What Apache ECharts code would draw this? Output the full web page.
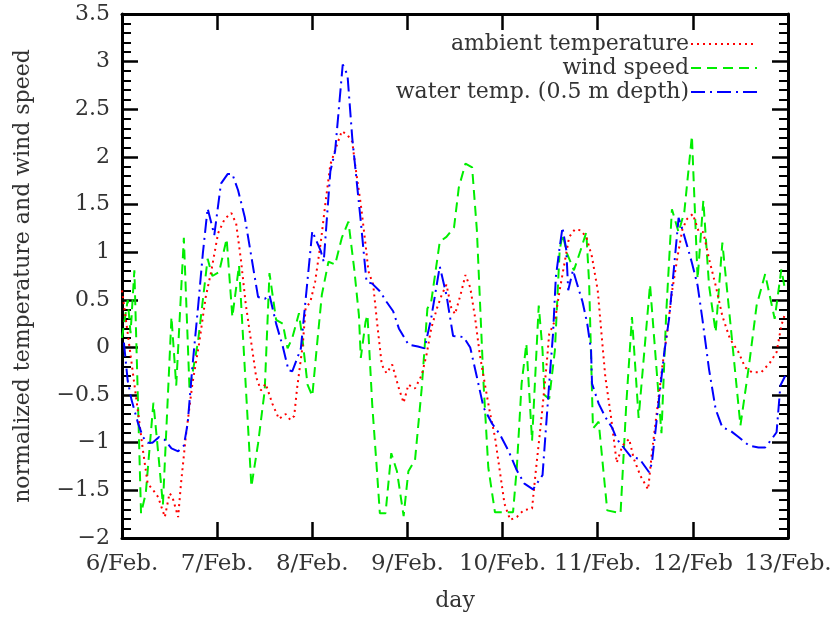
<!DOCTYPE html>
<html>
<head>
<meta charset="utf-8">
<script src="https://cdn.jsdelivr.net/npm/echarts@6/dist/echarts.min.js"></script>
<style>
html,body{margin:0;padding:0;background:#fff;}
#chart{width:836px;height:618px;}
</style>
</head>
<body>
<div id="chart"></div>
<script>
// x tick labels (day index 0..7)
const dayLabels = ['6/Feb.', '7/Feb.', '8/Feb.', '9/Feb.', '10/Feb.', '11/Feb.', '12/Feb', '13/Feb.'];
const seriesNames = ['ambient temperature', 'wind speed', 'water temp. (0.5 m depth)'];

// [day, normalized value]
const ambient = [
  [0.00,0.60],[0.06,0.15],[0.12,-0.31],[0.17,-0.69],[0.22,-1.08],[0.27,-1.43],[0.33,-1.50],[0.38,-1.57],
  [0.45,-1.78],[0.50,-1.53],[0.53,-1.57],[0.59,-1.78],[0.62,-1.43],[0.67,-0.94],[0.74,-0.38],[0.81,0.04],
  [0.88,0.53],[0.94,0.81],[1.01,1.20],[1.08,1.35],[1.15,1.41],[1.20,1.30],[1.25,0.92],[1.30,0.46],
  [1.36,0.04],[1.41,-0.31],[1.46,-0.45],[1.51,-0.38],[1.58,-0.59],[1.65,-0.75],[1.72,-0.70],[1.77,-0.76],
  [1.81,-0.72],[1.84,-0.43],[1.90,0.03],[1.93,0.41],[1.98,0.48],[2.03,0.69],[2.09,1.11],[2.14,1.53],
  [2.19,1.92],[2.26,2.13],[2.31,2.27],[2.37,2.23],[2.42,2.16],[2.45,1.92],[2.51,1.50],[2.56,1.08],
  [2.59,0.80],[2.64,0.66],[2.68,0.27],[2.73,-0.18],[2.78,-0.27],[2.84,-0.18],[2.91,-0.43],[2.96,-0.58],
  [3.01,-0.39],[3.08,-0.43],[3.15,-0.29],[3.20,-0.08],[3.25,0.20],[3.31,0.41],[3.36,0.55],[3.41,0.66],
  [3.46,0.42],[3.50,0.35],[3.56,0.56],[3.61,0.76],[3.66,0.63],[3.71,0.32],[3.76,-0.07],[3.82,-0.42],
  [3.87,-0.70],[3.92,-0.94],[3.97,-1.29],[4.02,-1.64],[4.08,-1.81],[4.15,-1.78],[4.22,-1.71],[4.31,-1.69],
  [4.35,-1.29],[4.41,-0.73],[4.46,-0.21],[4.49,0.14],[4.55,0.28],[4.60,0.60],[4.65,0.88],[4.70,1.16],
  [4.76,1.24],[4.82,1.23],[4.88,1.16],[4.94,0.95],[5.00,0.60],[5.04,0.14],[5.08,-0.31],[5.14,-0.73],
  [5.20,-1.21],[5.26,-1.03],[5.33,-0.96],[5.38,-1.17],[5.45,-1.35],[5.53,-1.49],[5.57,-1.10],[5.63,-0.61],
  [5.68,-0.19],[5.73,0.16],[5.78,0.58],[5.84,0.96],[5.89,1.24],[5.94,1.35],[6.00,1.40],[6.06,1.22],
  [6.11,1.21],[6.17,0.93],[6.24,0.65],[6.31,0.33],[6.39,0.09],[6.48,-0.05],[6.55,-0.21],[6.62,-0.26],
  [6.72,-0.26],[6.81,-0.16],[6.88,-0.05],[6.93,0.23],[6.97,0.36]
];

const wind = [
  [0.00,0.10],[0.06,0.50],[0.09,0.15],[0.13,0.81],[0.20,-1.74],[0.25,-1.53],[0.33,-0.58],[0.38,-1.10],
  [0.43,-1.65],[0.52,0.32],[0.57,-0.40],[0.65,1.15],[0.71,-0.45],[0.80,0.07],[0.90,0.93],[0.95,0.75],
  [1.02,0.79],[1.10,1.14],[1.16,0.32],[1.23,0.86],[1.36,-1.46],[1.43,-1.01],[1.50,-0.45],[1.55,0.78],
  [1.62,0.29],[1.69,0.25],[1.74,-0.01],[1.79,0.10],[1.86,0.36],[1.90,0.06],[1.95,-0.39],[2.00,-0.51],
  [2.05,0.03],[2.10,0.55],[2.17,0.90],[2.24,0.87],[2.31,1.15],[2.38,1.32],[2.44,0.83],[2.49,0.34],
  [2.51,-0.11],[2.56,0.27],[2.58,0.34],[2.63,-0.60],[2.68,-1.30],[2.71,-1.74],[2.77,-1.74],[2.83,-1.11],
  [2.89,-1.30],[2.96,-1.77],[3.01,-1.30],[3.08,-1.18],[3.15,-0.43],[3.21,0.41],[3.25,0.48],[3.34,1.11],
  [3.41,1.16],[3.49,1.26],[3.54,1.68],[3.61,1.93],[3.68,1.89],[3.73,1.23],[3.80,-0.38],[3.85,-1.26],
  [3.92,-1.73],[4.01,-1.73],[4.11,-1.73],[4.15,-1.26],[4.20,-0.38],[4.25,0.04],[4.31,-0.98],[4.38,0.44],
  [4.42,-0.03],[4.44,-0.50],[4.49,-0.54],[4.55,-0.03],[4.60,1.02],[4.63,1.19],[4.68,0.98],[4.75,0.81],
  [4.82,1.02],[4.88,1.21],[4.91,0.67],[4.95,-0.85],[5.01,-0.78],[5.10,-1.71],[5.24,-1.74],[5.30,-0.60],
  [5.36,0.32],[5.43,-0.74],[5.55,0.66],[5.67,-0.90],[5.72,0.36],[5.78,1.45],[5.85,1.21],[5.91,1.42],
  [5.99,2.22],[6.05,0.72],[6.11,1.54],[6.17,0.65],[6.24,0.16],[6.31,1.10],[6.39,0.30],[6.50,-0.82],
  [6.59,-0.19],[6.67,0.44],[6.76,0.77],[6.86,0.30],[6.93,0.82],[6.97,0.60]
];

const water = [
  [0.02,0.05],[0.06,-0.35],[0.10,-0.55],[0.17,-0.80],[0.22,-0.94],[0.27,-1.00],[0.32,-1.00],[0.39,-0.94],
  [0.45,-0.97],[0.52,-1.06],[0.59,-1.09],[0.65,-1.03],[0.69,-0.80],[0.74,-0.20],[0.80,0.43],[0.85,0.99],
  [0.90,1.46],[0.97,1.18],[1.04,1.72],[1.11,1.82],[1.16,1.82],[1.22,1.65],[1.29,1.37],[1.36,0.95],
  [1.43,0.53],[1.50,0.51],[1.55,0.55],[1.62,0.25],[1.69,0.01],[1.75,-0.24],[1.79,-0.25],[1.88,-0.01],
  [2.00,1.22],[2.09,1.01],[2.12,0.90],[2.19,1.85],[2.24,2.06],[2.32,2.97],[2.37,2.86],[2.42,2.20],
  [2.51,1.32],[2.57,0.69],[2.63,0.67],[2.71,0.59],[2.78,0.48],[2.85,0.38],[2.91,0.20],[3.01,0.03],
  [3.11,0.01],[3.18,-0.01],[3.25,0.31],[3.34,0.85],[3.41,0.55],[3.48,0.12],[3.59,0.11],[3.66,0.00],
  [3.73,-0.31],[3.80,-0.63],[3.89,-0.80],[3.97,-0.91],[4.06,-1.08],[4.15,-1.29],[4.23,-1.43],[4.32,-1.49],
  [4.42,-1.34],[4.49,-0.38],[4.53,0.14],[4.56,0.74],[4.60,1.05],[4.63,1.26],[4.67,1.02],[4.69,0.60],
  [4.74,0.81],[4.84,0.48],[4.89,0.25],[4.93,-0.03],[4.94,-0.38],[5.01,-0.59],[5.08,-0.73],[5.15,-0.84],
  [5.20,-0.96],[5.35,-1.15],[5.44,-1.17],[5.54,-1.31],[5.57,-1.21],[5.64,-0.58],[5.70,-0.05],[5.75,0.30],
  [5.80,0.82],[5.85,1.36],[5.89,1.24],[5.99,0.89],[6.05,0.65],[6.10,0.30],[6.17,-0.23],[6.24,-0.65],
  [6.31,-0.84],[6.39,-0.87],[6.48,-0.94],[6.59,-1.03],[6.69,-1.05],[6.76,-1.05],[6.83,-0.96],[6.88,-0.89],
  [6.92,-0.40],[6.97,-0.30]
];

const FONT = 'DejaVu Serif';
const TXT = '#333333';
const FS = 22;

const chart = echarts.init(document.getElementById('chart'), null, {renderer: 'canvas'});

function yFmt(v) {
  const r = Math.round(v * 10) / 10;
  return r < 0 ? '\u2212' + Math.abs(r) : String(r);
}

const axisLineStyle = {color: '#000', width: 3};
const tickStyle = {color: '#000', width: 2.5};
const minorStyle = {color: '#000', width: 2};

function legendFor(name, top) {
  return {
    data: [name], right: 78, top: top, align: 'right', orient: 'vertical',
    itemWidth: 66, itemHeight: 12, selectedMode: false, padding: 0,
    itemStyle: {opacity: 0},
    textStyle: {fontFamily: FONT, fontSize: FS, color: TXT, padding: [0, -3, 0, 0]}
  };
}

// hidden helper axes: their zero sits on a plot edge, so the framed axes are anchored there
function helperAxis(min, max) {
  return {type: 'value', min: min, max: max, show: false, axisLine: {onZero: false}};
}

const option = {
  animation: false,
  backgroundColor: '#fff',
  grid: {left: 122, right: 48, top: 14, bottom: 80, containLabel: false},
  legend: [legendFor(seriesNames[0], 33), legendFor(seriesNames[1], 57), legendFor(seriesNames[2], 81)],
  xAxis: [
    {
      type: 'value', min: 0, max: 7, interval: 1, position: 'bottom',
      axisLine: {show: true, onZero: true, onZeroAxisIndex: 2, lineStyle: axisLineStyle},
      axisTick: {show: true, inside: true, length: 16, lineStyle: tickStyle},
      axisLabel: {formatter: v => dayLabels[Math.round(v)], fontFamily: FONT, fontSize: FS + 1, color: TXT, margin: 15,
                  showMinLabel: true, showMaxLabel: true},
      splitLine: {show: false},
      name: 'day', nameLocation: 'middle', nameGap: 52,
      nameTextStyle: {fontFamily: FONT, fontSize: FS, color: TXT}
    },
    {
      type: 'value', min: 0, max: 7, interval: 1, position: 'top',
      axisLine: {show: true, onZero: true, onZeroAxisIndex: 3, lineStyle: axisLineStyle},
      axisTick: {show: true, inside: true, length: 16, lineStyle: tickStyle},
      axisLabel: {show: false}, splitLine: {show: false}
    },
    helperAxis(-1, 0)
  ],
  yAxis: [
    {
      type: 'value', min: -2, max: 3.5, interval: 0.5, position: 'left',
      axisLine: {show: true, onZero: true, onZeroAxisIndex: 0, lineStyle: axisLineStyle},
      axisTick: {show: true, inside: true, length: 16, lineStyle: tickStyle},
      minorTick: {show: true, splitNumber: 5, length: 9, lineStyle: minorStyle},
      axisLabel: {formatter: yFmt, fontFamily: FONT, fontSize: FS, color: TXT, margin: 12},
      splitLine: {show: false}, minorSplitLine: {show: false},
      name: 'normalized temperature and wind speed', nameLocation: 'middle', nameRotate: 90, nameGap: 88,
      nameTextStyle: {fontFamily: FONT, fontSize: FS, color: TXT}
    },
    {
      type: 'value', min: -2, max: 3.5, interval: 0.5, position: 'right',
      axisLine: {show: true, onZero: true, onZeroAxisIndex: 2, lineStyle: axisLineStyle},
      axisTick: {show: true, inside: true, length: 16, lineStyle: tickStyle},
      minorTick: {show: true, splitNumber: 5, length: 9, lineStyle: minorStyle},
      axisLabel: {show: false}, splitLine: {show: false}, minorSplitLine: {show: false}
    },
    helperAxis(0, 1),
    helperAxis(-1, 0)
  ],
  series: [
    {
      name: seriesNames[0], type: 'line', data: ambient, symbol: 'none', xAxisIndex: 0, yAxisIndex: 0,
      color: '#ff0000', lineStyle: {color: '#ff0000', width: 2, type: [2, 4]}, z: 3
    },
    {
      name: seriesNames[1], type: 'line', data: wind, symbol: 'none', xAxisIndex: 0, yAxisIndex: 0,
      color: '#00ee00', lineStyle: {color: '#00ee00', width: 2, type: [10, 6]}, z: 2
    },
    {
      name: seriesNames[2], type: 'line', data: water, symbol: 'none', xAxisIndex: 0, yAxisIndex: 0,
      color: '#0000ff', lineStyle: {color: '#0000ff', width: 2, type: [14, 5, 2, 5]}, z: 4
    }
  ]
};

chart.setOption(option);
</script>
</body>
</html>
